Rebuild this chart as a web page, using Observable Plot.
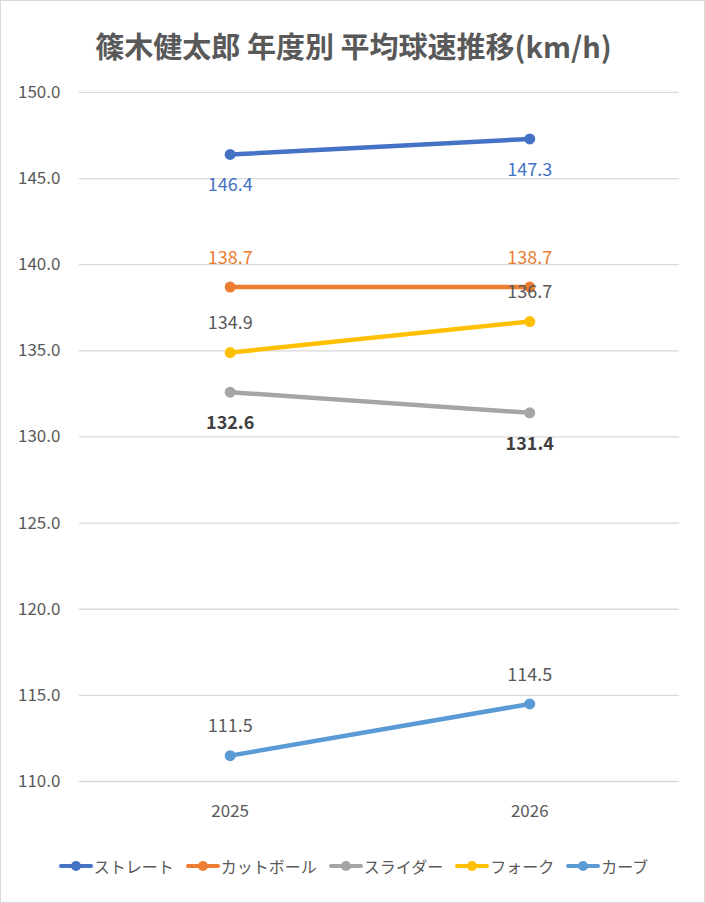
<!DOCTYPE html>
<html><head><meta charset="utf-8">
<script src="https://cdn.jsdelivr.net/npm/d3@7"></script>
<script src="https://cdn.jsdelivr.net/npm/@observablehq/plot@0.6"></script>
<style>
body{margin:0;background:#fff;font-family:"Noto Sans CJK JP","Noto Sans",sans-serif;}
#wrap{position:relative;width:705px;height:903px;box-sizing:border-box;border:1px solid #d9d9d9;background:#fff;overflow:hidden;}
#title{position:absolute;left:0;top:22px;width:705px;text-align:center;font-size:29px;font-weight:bold;color:#595959;line-height:44px;}
#chart{position:absolute;left:-1px;top:71px;}
#legend{position:absolute;left:0;top:853px;width:705px;display:flex;justify-content:center;gap:12px;font-size:16px;color:#595959;}
.item{display:flex;align-items:center;gap:1px;}
</style></head><body>
<div id="wrap">
<div id="title">篠木健太郎 年度別 平均球速推移(km/h)</div>
<div id="chart"></div>
<div id="legend"></div>
</div>
<script>
const years = ["2025", "2026"];
const seriesNames = ["ストレート", "カットボール", "スライダー", "フォーク", "カーブ"];
const straight = [146.4, 147.3];
const cutter = [138.7, 138.7];
const slider = [132.6, 131.4];
const fork = [134.9, 136.7];
const curve = [111.5, 114.5];
const yTicks = [110, 115, 120, 125, 130, 135, 140, 145, 150];

const values = [straight, cutter, slider, fork, curve];
const colors = ["#4472C4", "#ED7D31", "#A5A5A5", "#FFC000", "#5B9BD5"];
const labelColors = ["#4472C4", "#ED7D31", "#404040", "#595959", "#595959"];
const labelWeights = ["normal", "normal", "bold", "normal", "normal"];
const labelDy = [31, -29, 31, -29, -29];

const data = [];
seriesNames.forEach((s, i) => years.forEach((y, j) => data.push({series: s, year: y, value: values[i][j], idx: i})));

const marks = [
  Plot.gridY(yTicks, {stroke: "#d9d9d9", strokeOpacity: 1, strokeWidth: 1.3}),
  Plot.axisY(yTicks, {tickSize: 0, tickPadding: 19, tickFormat: d => d.toFixed(1), fill: "#595959", fontSize: 17, label: null}),
  Plot.axisX({tickSize: 0, tickPadding: 23, fill: "#595959", fontSize: 17, label: null}),
  Plot.line(data, {x: "year", y: "value", z: "series", stroke: "series", strokeWidth: 4.5, strokeLinecap: "round"}),
  Plot.dot(data, {x: "year", y: "value", fill: "series", r: 5.5, stroke: "none"})
];
seriesNames.forEach((s, i) => {
  marks.push(Plot.text(data.filter(d => d.series === s), {
    x: "year", y: "value", text: d => d.value.toFixed(1), dy: labelDy[i],
    fill: labelColors[i], fontWeight: labelWeights[i], fontSize: 18
  }));
});

const chart = Plot.plot({
  width: 705, height: 750,
  marginTop: 20, marginBottom: 40, marginLeft: 79, marginRight: 25,
  style: {fontFamily: '"Noto Sans CJK JP","Noto Sans",sans-serif', fontSize: "17px", background: "transparent"},
  x: {type: "band", domain: years, padding: 0, axis: null},
  y: {domain: [110, 150], axis: null},
  color: {domain: seriesNames, range: colors},
  marks
});
document.getElementById("chart").appendChild(chart);

const legend = document.getElementById("legend");
seriesNames.forEach((s, i) => {
  const it = document.createElement("div");
  it.className = "item";
  it.innerHTML = `<svg width="34" height="14"><line x1="2" y1="7" x2="32" y2="7" stroke="${colors[i]}" stroke-width="4" stroke-linecap="round"/><circle cx="17" cy="7" r="5" fill="${colors[i]}"/></svg><span>${s}</span>`;
  legend.appendChild(it);
});
</script>
</body></html>
